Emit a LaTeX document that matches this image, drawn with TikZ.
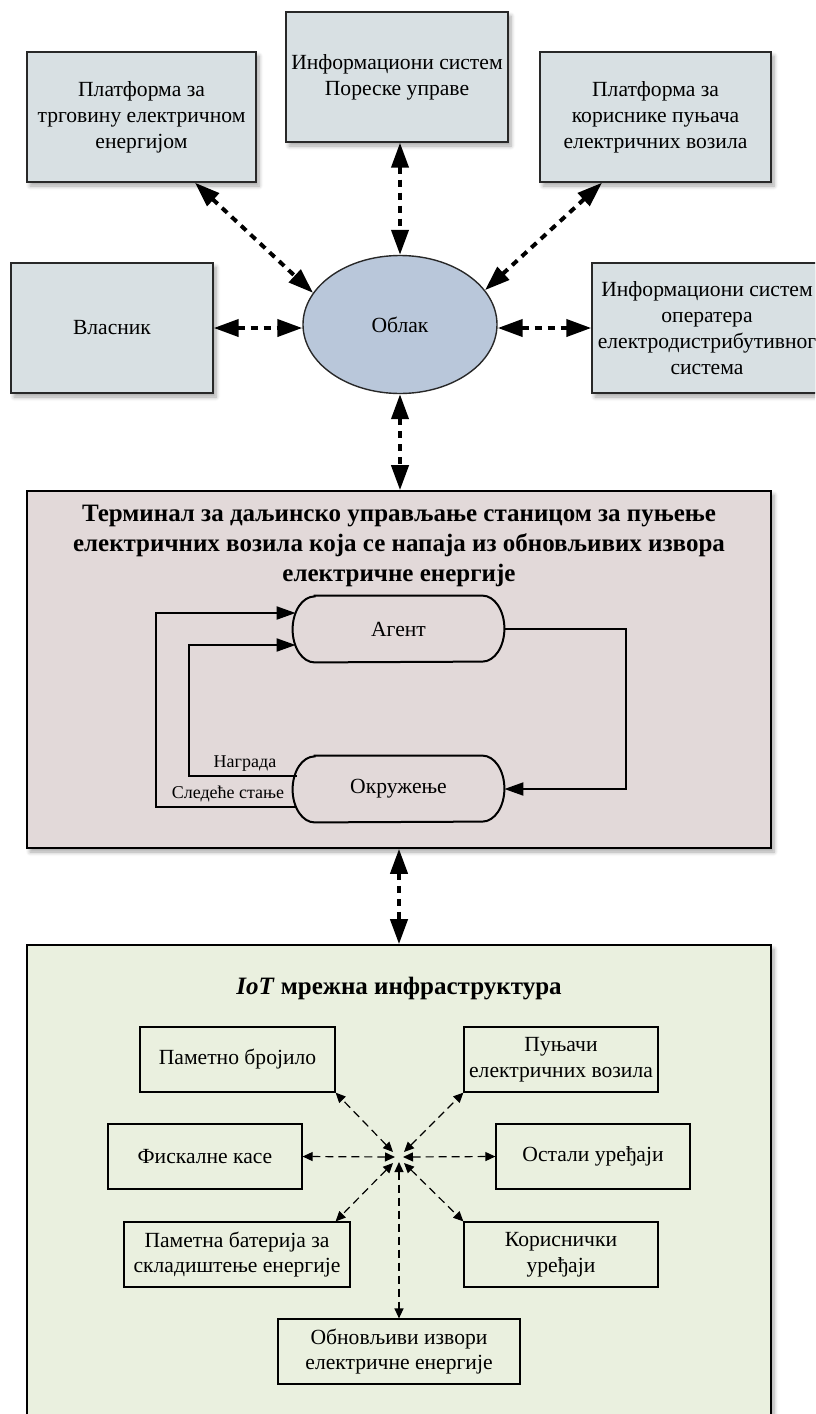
\documentclass[tikz,border=0pt]{standalone}
\usepackage{fontspec}
\setmainfont{Liberation Serif}
\usetikzlibrary{arrows.meta,shapes.geometric,shadows.blur,calc}
\definecolor{topfill}{RGB}{216,224,227}
\definecolor{ellfill}{RGB}{185,199,218}
\definecolor{termfill}{RGB}{226,217,217}
\definecolor{iotfill}{RGB}{234,240,223}
\definecolor{edge}{RGB}{40,40,40}
\begin{document}
\begin{tikzpicture}[x=0.5pt,y=-0.5pt,
  shd/.style={blur shadow={shadow xshift=1.5pt,shadow yshift=-2pt,shadow blur radius=2pt,shadow blur steps=6,shadow opacity=35}},
  topbox/.style={draw=edge,line width=0.7pt,fill=topfill,align=center,minimum height=65pt,inner sep=0pt,font=\fontsize{10.8}{13}\selectfont,shd},
  bigbox/.style={draw=black,line width=0.8pt,shd},
  cloud/.style={ellipse,draw=edge,line width=0.7pt,fill=ellfill,minimum width=97pt,minimum height=69pt,inner sep=0pt,font=\fontsize{10.8}{13}\selectfont},
  termshape/.style={draw=none,minimum width=105.5pt,minimum height=33pt,inner sep=0pt,font=\fontsize{10.8}{12.6}\selectfont},
  iotbox/.style={draw=black,line width=0.6pt,align=center,minimum height=32.5pt,inner sep=0pt,font=\fontsize{10.8}{12.8}\selectfont},
  lbl/.style={inner sep=0pt,font=\fontsize{9}{11}\selectfont},
  bigarrow/.style={line width=2pt,dash pattern=on 3.5pt off 3pt,{Triangle[length=12.5pt,width=8.5pt]}-{Triangle[length=12.5pt,width=8.5pt]}},
  looparrow/.style={line width=1pt,-{Triangle[length=9.5pt,width=6.5pt]}},
  smallarrow/.style={line width=0.6pt,dash pattern=on 4pt off 2.5pt,{Triangle[length=5pt,width=4.5pt]}-{Triangle[length=5pt,width=4.5pt]}}
]
\useasboundingbox (0,0) rectangle (815,1414);
\clip (0,0) rectangle (815,1414);

% top boxes
\node[topbox,minimum width=114.5pt] (b1) at (141.5,117) {Платформа за\\трговину електричном\\енергијом};
\node[topbox,minimum width=111pt] (b2) at (397,77) {Информациони систем\\Пореске управе};
\node[topbox,minimum width=115.5pt] (b3) at (655.5,117) {Платформа за\\кориснике пуњача\\електричних возила};
\node[topbox,minimum width=101pt] (b4) at (112,328) {Власник};
\node[topbox,minimum width=115pt] (b5) at (707,328) {Информациони систем\\оператера\\електродистрибутивног\\система};
\node[cloud] (ell) at (400,324.5) {Облак};

\draw[bigarrow] ($(b1.south)+(53.5,0)$) -- (ell.160);
\draw[bigarrow] (ell.north |- b2.south) -- (ell.north);
\draw[bigarrow] ($(b3.south)+(-53.5,0)$) -- (ell.22);
\draw[bigarrow] (b4.east) -- (b4.east -| ell.west);
\draw[bigarrow] (ell.east |- b5.west) -- (b5.west);

% terminal
\node[bigbox,fill=termfill,minimum width=372pt,minimum height=178.5pt,inner sep=0pt] (term) at (399,669.5) {};
\node[align=center,inner sep=0pt,font=\bfseries\fontsize{12.5}{15}\selectfont] (ttl) at (399,546)
  {Терминал за даљинско управљање станицом за пуњење\\електричних возила која се напаја из обновљивих извора\\електричне енергије};
\draw[bigarrow] (ell.south) -- (ell.south |- term.north);

\node[termshape] (ag) at (398.5,629) {Агент};
\node[termshape] (ok) at (398.5,789) {Окружење};
\foreach \n in {ag,ok}{
  \draw[line width=1pt] ($(\n.north west)+(22,0)$) -- ($(\n.north east)+(-22,0)$)
    arc[start angle=90,end angle=-90,x radius=11pt,y radius=16.5pt]
    -- ($(\n.south west)+(22,0)$)
    arc[start angle=270,end angle=90,x radius=11pt,y radius=16.5pt] -- cycle;
}
\draw[looparrow] (ag.east) -- ++(122,0) |- (ok.east);
\draw[looparrow] ($(ok.west)+(4,18)$) -- ++(-141,0) |- ($(ag.west)+(3,-16)$);
\draw[looparrow] ($(ok.west)+(4,-13)$) -- ++(-108,0) |- ($(ag.west)+(3,16)$);
\node[lbl] (nagr) at (245,764) {Награда};
\node[lbl] (sled) at (228,794) {Следеће стање};

% IoT
\node[bigbox,fill=iotfill,minimum width=372pt,minimum height=242.5pt,inner sep=0pt] (iot) at (399,1187.5) {};
\draw[bigarrow] (term.south) -- (iot.north);
\node[inner sep=0pt,font=\bfseries\fontsize{12.5}{15}\selectfont] (iottl) at (399,989) {\textit{IoT} мрежна инфраструктура};

\node[iotbox,minimum width=97.5pt] (pb) at (237.5,1059.5) {Паметно бројило};
\node[iotbox,minimum width=97pt] (pu) at (561,1059.5) {Пуњачи\\електричних возила};
\node[iotbox,minimum width=97pt] (fk) at (205,1156.5) {Фискалне касе};
\node[iotbox,minimum width=97pt] (os) at (593,1156.5) {Остали уређаји};
\node[iotbox,minimum width=113pt] (pbat) at (237,1254.5) {Паметна батерија за\\складиштење енергије};
\node[iotbox,minimum width=97pt] (ku) at (561,1254.5) {Кориснички\\уређаји};
\node[iotbox,minimum width=121pt] (ob) at (399,1351.5) {Обновљиви извори\\електричне енергије};
\coordinate (hub) at (399,1157);

\draw[smallarrow] ($(hub)+(-6,-5)$) -- (pb.south east);
\draw[smallarrow] ($(hub)+(5,-5)$) -- (pu.south west);
\draw[smallarrow] ($(hub)+(-4,0)$) -- (fk.east);
\draw[smallarrow] ($(hub)+(4,0)$) -- (os.west);
\draw[smallarrow] ($(hub)+(-6,6)$) -- ($(pbat.north east)+(-15,0)$);
\draw[smallarrow] ($(hub)+(5,6)$) -- (ku.north west);
\draw[smallarrow] ($(hub)+(0,5)$) -- (ob.north);
\end{tikzpicture}
\end{document}
